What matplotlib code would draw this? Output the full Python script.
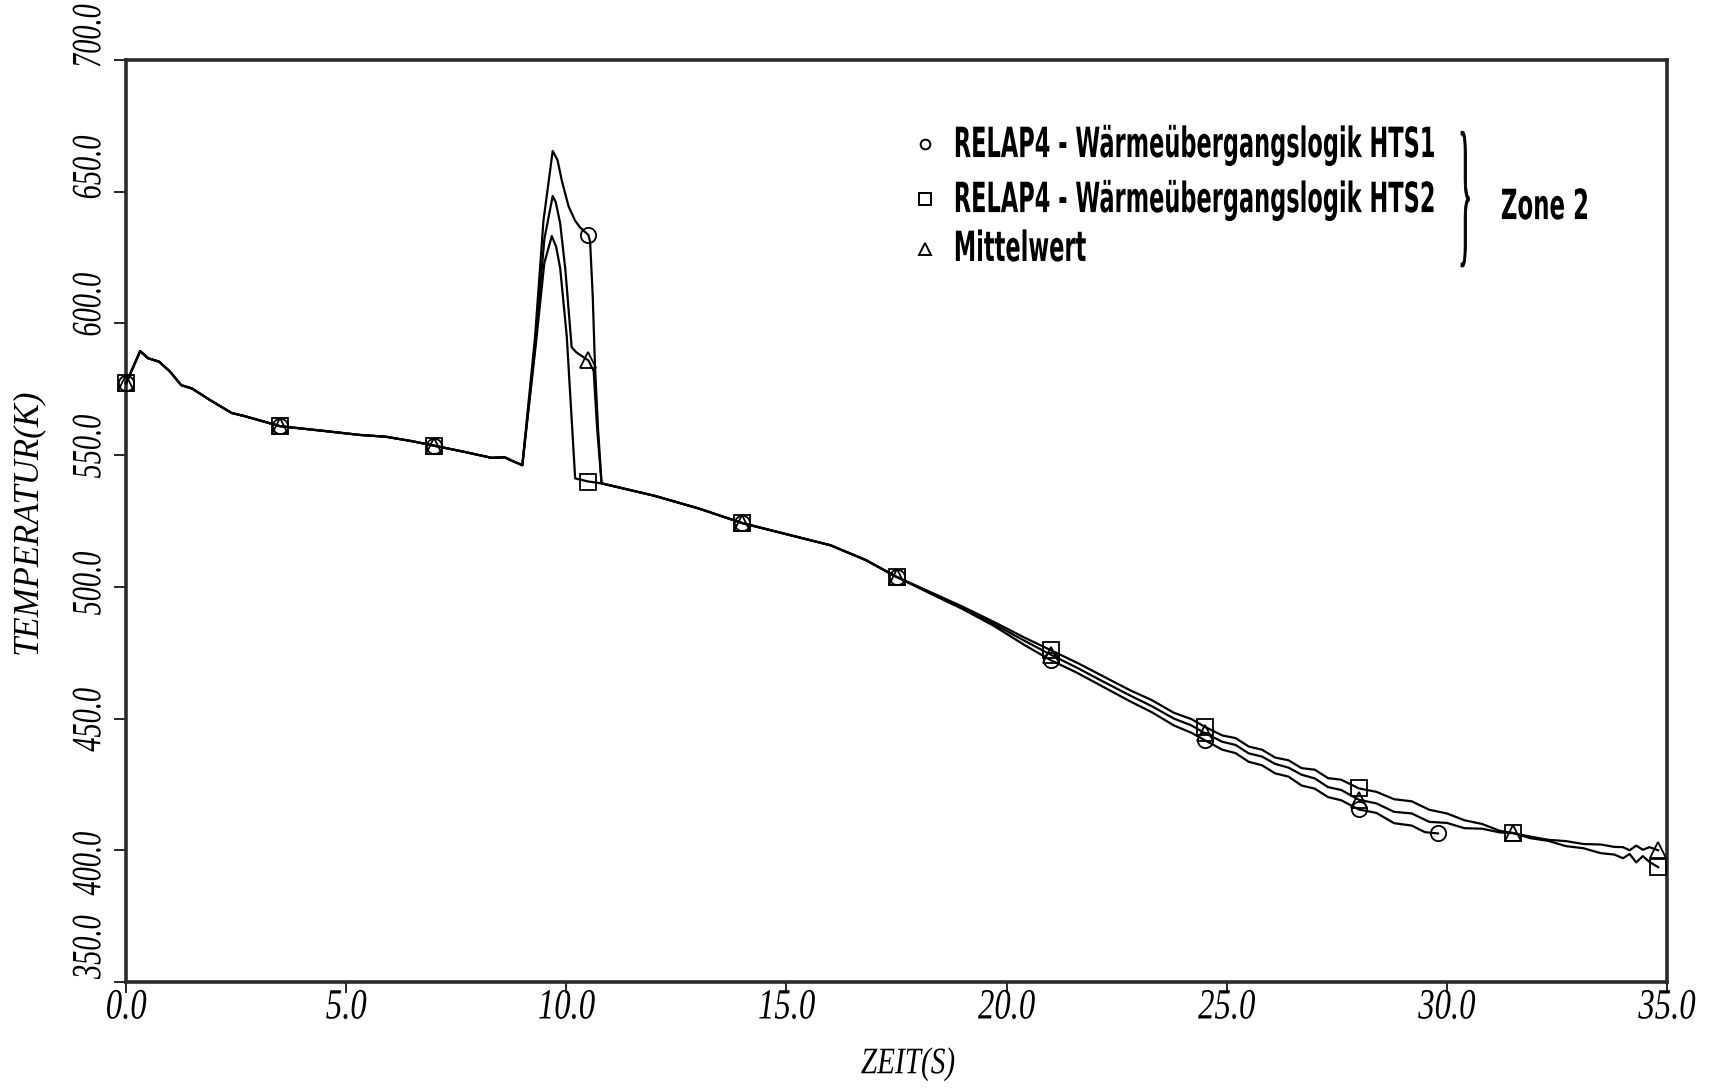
import numpy as np
import matplotlib
matplotlib.use("Agg")
import matplotlib.pyplot as plt
from matplotlib import patheffects
from matplotlib.transforms import Affine2D, blended_transform_factory

# -------------------------------------------------
# Data: temperature (K) over time (s), zone 2
# -------------------------------------------------
# common start, identical for all runs
T_START = [0.0, 0.32, 0.5, 0.75, 1.0, 1.25, 1.5, 1.9, 2.4, 2.7, 3.5, 4.5,
           5.3, 5.9, 6.5, 7.0, 7.7, 8.3, 8.6, 8.75, 9.0]
Y_START = [577.3, 589.5, 586.8, 585.5, 581.7, 576.6, 575.3, 571.0, 566.0,
           564.8, 561.0, 559.2, 557.7, 557.0, 555.3, 553.6, 551.2, 549.0,
           549.2, 548.0, 546.2]

# temperature peak around 10 s
HTS1_T_PEAK = [9.29, 9.48, 9.69, 9.8, 9.9, 10.05, 10.2, 10.31, 10.5, 10.54,
               10.6, 10.65, 10.72]
HTS1_Y_PEAK = [595.0, 639.0, 665.5, 662.0, 654.0, 644.5, 639.0, 636.5, 633.6,
               631.0, 610.0, 584.0, 560.0]
HTS2_T_PEAK = [9.3, 9.5, 9.67, 9.77, 9.86, 10.01, 10.2, 10.5]
HTS2_Y_PEAK = [591.0, 623.0, 633.2, 629.0, 621.0, 595.0, 541.2, 540.0]
MW_T_PEAK = [9.3, 9.5, 9.69, 9.76, 9.86, 9.98, 10.12, 10.23, 10.5, 10.62, 10.7]
MW_Y_PEAK = [593.0, 632.0, 648.4, 646.0, 638.0, 620.0, 591.0, 589.0, 586.0,
             582.0, 560.0]

# common cooldown after the peak
T_MID = [10.8, 12.0, 13.0, 14.0, 15.0, 16.0, 16.8, 17.5]
Y_MID = [539.3, 534.6, 529.8, 524.2, 520.0, 515.8, 510.2, 503.8]

# tails, runs drift apart
HTS1_T_TAIL = [18.3, 19.0, 19.7, 20.4, 21.0, 21.6, 22.2, 22.8, 23.3, 23.8,
               24.2, 24.5, 24.9, 25.2, 25.5, 25.8, 26.1, 26.4, 26.7, 27.0,
               27.3, 27.6, 28.0, 28.4, 28.8, 29.2, 29.5, 29.8]
HTS1_Y_TAIL = [497.2, 491.6, 485.3, 478.0, 472.2, 467.4, 462.0, 456.6, 452.4,
               447.4, 444.6, 441.8, 438.2, 436.9, 433.6, 432.3, 429.2, 428.0,
               424.6, 423.4, 420.2, 419.0, 415.5, 414.2, 410.3, 409.4, 406.9,
               406.4]
HTS2_T_TAIL = [18.3, 19.0, 19.7, 20.4, 21.0, 21.6, 22.2, 22.8, 23.3, 23.8,
               24.2, 24.5, 24.9, 25.2, 25.5, 25.8, 26.1, 26.4, 26.7, 27.0,
               27.3, 27.6, 28.0, 28.4, 28.8, 29.2, 29.6, 30.0, 30.4, 30.8,
               31.2, 31.5, 31.9, 32.3, 32.7, 33.1, 33.5, 33.8, 34.0, 34.15,
               34.3, 34.45, 34.6, 34.8]
HTS2_Y_TAIL = [497.8, 492.5, 486.8, 480.8, 476.0, 471.2, 466.0, 460.8, 457.0,
               452.2, 449.8, 446.9, 443.6, 442.6, 439.4, 438.2, 435.2, 434.2,
               431.2, 430.6, 427.4, 426.8, 423.5, 422.2, 419.4, 418.6, 415.4,
               414.0, 411.4, 410.0, 407.4, 406.6, 404.6, 403.6, 401.6, 400.8,
               398.9, 398.4, 397.0, 398.6, 395.4, 397.8, 395.6, 393.6]
MW_T_TAIL = [18.3, 19.0, 19.7, 20.4, 21.0, 21.6, 22.2, 22.8, 23.3, 23.8,
             24.2, 24.5, 24.9, 25.2, 25.5, 25.8, 26.1, 26.4, 26.7, 27.0,
             27.3, 27.6, 28.0, 28.4, 28.8, 29.2, 29.6, 30.0, 30.4, 30.8,
             31.2, 31.5, 31.9, 32.3, 32.7, 33.1, 33.5, 33.8, 34.0, 34.15,
             34.3, 34.45, 34.6, 34.8]
MW_Y_TAIL = [497.5, 492.0, 486.0, 479.6, 474.3, 469.3, 464.0, 458.8, 454.7,
             450.0, 447.4, 444.5, 441.2, 440.0, 436.8, 435.6, 432.8, 431.4,
             428.7, 427.3, 424.0, 422.9, 419.2, 417.8, 414.6, 414.0, 410.8,
             410.4, 408.4, 408.2, 406.8, 406.5, 405.2, 404.0, 403.5, 402.4,
             402.2, 401.3, 401.2, 400.0, 401.8, 400.2, 401.2, 400.0]

# marker spacing (s)
MARK_T = [0.0, 3.5, 7.0, 10.5, 14.0, 17.5, 21.0, 24.5, 28.0, 31.5]

LABELS = ["RELAP4 - Wärmeübergangslogik HTS1",
          "RELAP4 - Wärmeübergangslogik HTS2",
          "Mittelwert"]
ZONE = "Zone 2"

XTICKS = [0, 5, 10, 15, 20, 25, 30, 35]
YTICKS = [350, 400, 450, 500, 550, 600, 650, 700]

SERIF = ["Liberation Serif", "DejaVu Serif"]
SANS = ["DejaVu Sans"]


class Narrow(patheffects.AbstractPathEffect):
    """Squeeze glyphs along the text direction (plotter lettering)."""

    def __init__(self, sx, anchor="center", lw=0.0):
        super().__init__()
        self.sx, self.anchor, self.lw = sx, anchor, lw

    def draw_path(self, renderer, gc, tpath, affine, rgbFace=None):
        ext = tpath.get_extents()
        x0 = ext.x0 if self.anchor == "left" else 0.5 * (ext.x0 + ext.x1)
        squeeze = Affine2D().translate(-x0, 0).scale(self.sx, 1).translate(x0, 0)
        gc0 = renderer.new_gc()
        gc0.copy_properties(gc)
        if self.lw:
            gc0.set_linewidth(self.lw)
            gc0.set_foreground(rgbFace)
        renderer.draw_path(gc0, tpath, squeeze + affine, rgbFace)
        gc0.restore()


def series(t_peak, y_peak, t_tail, y_tail):
    t = np.array(T_START + t_peak + T_MID + t_tail)
    y = np.array(Y_START + y_peak + Y_MID + y_tail)
    marks = [i for i, v in enumerate(t) if np.any(np.isclose(v, MARK_T))]
    marks.append(len(t) - 1)
    return t, y, sorted(set(marks))


fig = plt.figure(figsize=(17.2, 10.88), dpi=100)
ax = fig.add_axes([0.0733, 0.0974, 0.8959, 0.8474])

runs = [
    (series(HTS1_T_PEAK, HTS1_Y_PEAK, HTS1_T_TAIL, HTS1_Y_TAIL), "o"),
    (series(HTS2_T_PEAK, HTS2_Y_PEAK, HTS2_T_TAIL, HTS2_Y_TAIL), "s"),
    (series(MW_T_PEAK, MW_Y_PEAK, MW_T_TAIL, MW_Y_TAIL), "^"),
]
for (t, y, marks), m in runs:
    ax.plot(t, y, color="black", lw=1.6, marker=m, markevery=marks,
            ms=11, mfc="none", mec="black", mew=1.3, clip_on=False, zorder=3)

ax.set_xlim(0, 35)
ax.set_ylim(350, 700)

for side in ["left", "right", "top", "bottom"]:
    ax.spines[side].set_linewidth(2.6)
    ax.spines[side].set_color("#2a2a2a")

# x axis
ax.set_xticks(XTICKS, labels=[f"{v:.1f}" for v in XTICKS])
ax.tick_params(axis="x", direction="out", length=8, width=1.2, pad=-3)
for lab in ax.get_xticklabels():
    lab.set_fontfamily(SERIF)
    lab.set_fontstyle("italic")
    lab.set_fontsize(31)
    lab.set_path_effects([Narrow(0.76)])

# y axis: ticks only, labels placed by hand (rotated plotter lettering)
ax.set_yticks(YTICKS)
ax.tick_params(axis="y", direction="out", length=9, width=1.2, labelleft=False)
ylab_center = [363.3, 395.0, 449.6, 501.3, 553.3, 607.1, 659.2, 709.0]
ytrans = blended_transform_factory(ax.transAxes, ax.transData)
for v, yc in zip(YTICKS, ylab_center):
    ax.text(-0.0234, yc, f"{v:.1f}", transform=ytrans, rotation=90,
            ha="center", va="center", family=SERIF, style="italic",
            fontsize=30, path_effects=[Narrow(0.68)])

ax.set_xlabel("ZEIT(S)", family=SERIF, style="italic", fontsize=27,
              va="center", path_effects=[Narrow(0.78)])
ax.xaxis.set_label_coords(0.5075, -0.089)
ax.set_ylabel("TEMPERATUR(K)", family=SERIF, style="italic", fontsize=25,
              va="center")
ax.yaxis.set_label_coords(-0.0642, 0.5)

# legend block, top right
leg_marker = [("o", 7), ("s", 8), ("^", 9)]
row_mark_y = [0.9089, 0.8492, 0.7950]
row_base_y = [0.8948, 0.8351, 0.7820]
for lab, (m, ms), ym, yb in zip(LABELS, leg_marker, row_mark_y, row_base_y):
    ax.plot([0.5185], [ym], marker=m, ms=ms, mfc="none", mec="black",
            mew=1.4, transform=ax.transAxes, clip_on=False)
    ax.text(0.536, yb, lab, transform=ax.transAxes, ha="left",
            va="baseline", family=SANS, weight="bold", fontsize=30,
            path_effects=[Narrow(0.54, anchor="left")])

ax.text(0.869, 0.842, "}", transform=ax.transAxes, ha="center", va="center",
        family=SERIF, fontsize=118, path_effects=[Narrow(0.17, lw=0.6)])
ax.text(0.8916, 0.8275, ZONE, transform=ax.transAxes, ha="left",
        va="baseline", family=SANS, weight="bold", fontsize=30,
        path_effects=[Narrow(0.55, anchor="left")])

fig.savefig("out.png", dpi=100, facecolor="white")
